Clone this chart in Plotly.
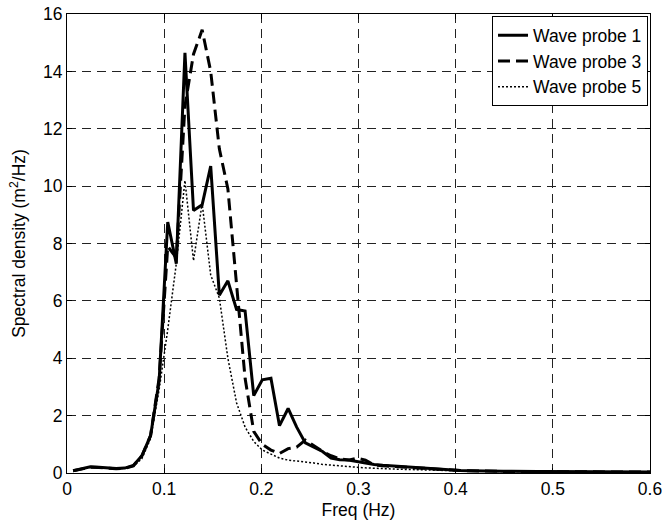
import plotly.graph_objects as go

freq = [0.0063, 0.0152, 0.0240, 0.0329, 0.0417, 0.0506, 0.0594, 0.0683, 0.0771, 0.0860,
        0.0948, 0.1037, 0.1125, 0.1214, 0.1302, 0.1391, 0.1479, 0.1568, 0.1656, 0.1745,
        0.1833, 0.1922, 0.2010, 0.2099, 0.2187, 0.2276, 0.2364, 0.2453, 0.2541, 0.2630,
        0.2718, 0.2807, 0.2895, 0.2984, 0.3072, 0.3161, 0.3249, 0.3338, 0.3426, 0.3515,
        0.3603, 0.3692, 0.3780, 0.3869, 0.3957, 0.4046, 0.4134, 0.4223, 0.4311, 0.4400,
        0.4488, 0.4577, 0.4665, 0.4754, 0.4842, 0.4931, 0.5019, 0.5108, 0.5196, 0.5285,
        0.5373, 0.5462, 0.5550, 0.5639, 0.5727, 0.5816, 0.5904, 0.5993, 0.6081]

wp1 = [0.08, 0.15, 0.22, 0.20, 0.17, 0.16, 0.17, 0.26, 0.60, 1.30,
       3.20, 8.75, 7.30, 14.65, 9.15, 9.35, 10.70, 6.20, 6.70, 5.70,
       5.65, 2.70, 3.25, 3.30, 1.65, 2.25, 1.60, 1.05, 0.90, 0.75,
       0.52, 0.46, 0.45, 0.40, 0.34, 0.30, 0.27, 0.25, 0.23, 0.20,
       0.18, 0.15, 0.13, 0.12, 0.10, 0.09, 0.08, 0.07, 0.07, 0.06,
       0.06, 0.06, 0.05, 0.05, 0.05, 0.05, 0.05, 0.04, 0.04, 0.04,
       0.04, 0.04, 0.04, 0.04, 0.03, 0.03, 0.03, 0.03, 0.03]

wp3 = [0.08, 0.15, 0.20, 0.19, 0.16, 0.15, 0.16, 0.25, 0.60, 1.30,
       3.30, 7.90, 7.50, 12.80, 14.60, 15.45, 14.00, 11.30, 9.90, 6.60,
       3.30, 1.45, 1.00, 0.80, 0.68, 0.85, 0.90, 1.15, 0.95, 0.75,
       0.60, 0.50, 0.45, 0.52, 0.45, 0.28, 0.25, 0.23, 0.21, 0.19,
       0.17, 0.15, 0.13, 0.11, 0.10, 0.09, 0.08, 0.07, 0.07, 0.06,
       0.06, 0.05, 0.05, 0.05, 0.05, 0.04, 0.04, 0.04, 0.04, 0.04,
       0.04, 0.03, 0.03, 0.03, 0.03, 0.03, 0.03, 0.03, 0.03]

wp5 = [0.08, 0.14, 0.20, 0.19, 0.16, 0.15, 0.16, 0.24, 0.50, 1.20,
       2.90, 5.00, 7.30, 10.20, 7.40, 9.40, 6.90, 6.10, 4.00, 2.45,
       1.60, 1.10, 0.80, 0.65, 0.52, 0.45, 0.42, 0.40, 0.35, 0.30,
       0.27, 0.25, 0.23, 0.20, 0.18, 0.16, 0.15, 0.14, 0.13, 0.12,
       0.11, 0.10, 0.09, 0.08, 0.08, 0.07, 0.07, 0.06, 0.06, 0.05,
       0.05, 0.05, 0.05, 0.04, 0.04, 0.04, 0.04, 0.04, 0.03, 0.03,
       0.03, 0.03, 0.03, 0.03, 0.03, 0.03, 0.03, 0.03, 0.03]

series_names = ["Wave probe 1", "Wave probe 3", "Wave probe 5"]

x_ticks = [0, 0.1, 0.2, 0.3, 0.4, 0.5, 0.6]
x_tick_labels = ["0", "0.1", "0.2", "0.3", "0.4", "0.5", "0.6"]
y_ticks = [0, 2, 4, 6, 8, 10, 12, 14, 16]
y_tick_labels = ["0", "2", "4", "6", "8", "10", "12", "14", "16"]

fig = go.Figure()
fig.add_trace(go.Scatter(x=freq, y=wp1, mode="lines", name=series_names[0],
                         line=dict(color="black", width=3)))
fig.add_trace(go.Scatter(x=freq, y=wp3, mode="lines", name=series_names[1],
                         line=dict(color="black", width=3, dash="12px,6px")))
fig.add_trace(go.Scatter(x=freq, y=wp5, mode="lines", name=series_names[2],
                         line=dict(color="black", width=1.5, dash="2px,2px")))

font = "Liberation Sans, Arial, sans-serif"
fs = 17.5
axis_common = dict(
    showline=True, linecolor="black", linewidth=1, mirror="ticks",
    ticks="inside", ticklen=5, tickcolor="black",
    showgrid=True, gridcolor="#222", gridwidth=1, griddash="9px,6px",
    zeroline=False, automargin=False, ticklabeloverflow="allow",
    tickfont=dict(family=font, size=fs, color="black"),
)

fig.update_layout(
    width=662, height=527,
    margin=dict(l=67, r=12, t=14, b=54),
    paper_bgcolor="white", plot_bgcolor="white",
    font=dict(family=font, size=fs, color="black"),
    xaxis=dict(range=[0, 0.60005], tickvals=x_ticks, ticktext=x_tick_labels,
               title=dict(text="Freq (Hz)", font=dict(family=font, size=fs), standoff=5),
               **axis_common),
    yaxis=dict(range=[0, 16.001], tickvals=y_ticks, ticktext=y_tick_labels,
               title=dict(text="Spectral density (m<sup>2</sup>/Hz)", font=dict(family=font, size=fs), standoff=12),
               **axis_common),
    legend=dict(x=0.9966, y=0.995, xanchor="right", yanchor="top",
                bgcolor="white", bordercolor="black", borderwidth=1,
                font=dict(family=font, size=fs), tracegroupgap=0,
                itemwidth=30),
    showlegend=True,
)

fig.write_html("out.html", config={"displayModeBar": False},
               post_script="document.body.style.margin='0';document.body.style.overflow='hidden';")
